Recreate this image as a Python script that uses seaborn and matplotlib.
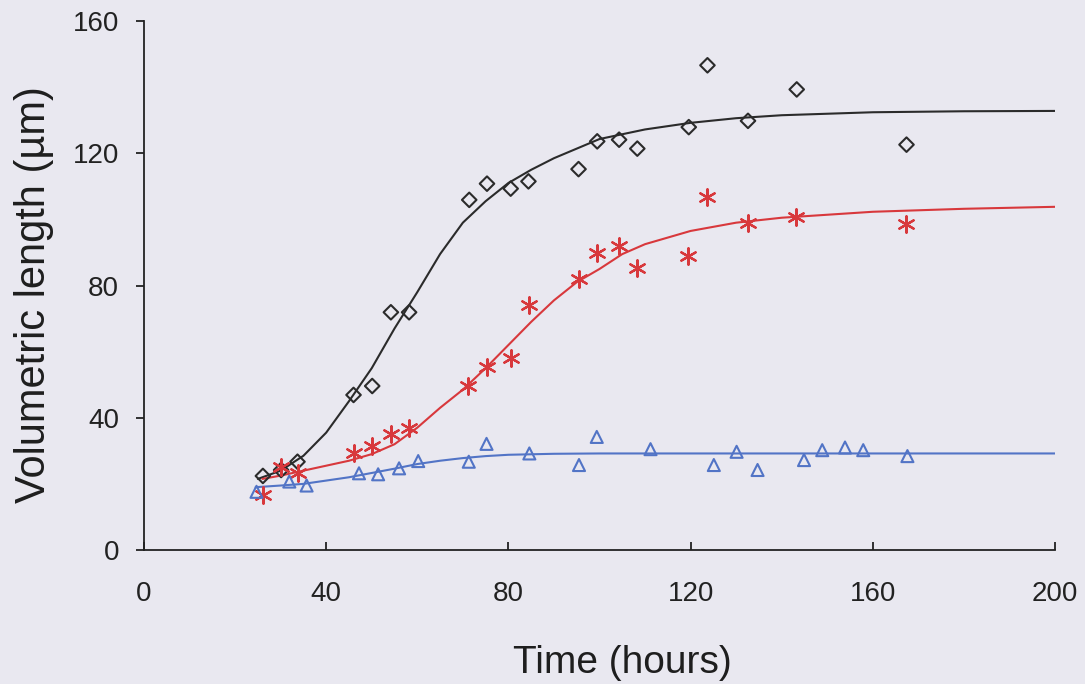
import matplotlib
matplotlib.use("Agg")
import matplotlib.pyplot as plt
import seaborn as sns

# ---- data ----
black_x = [26.1, 30.1, 33.7, 46.0, 50.1, 54.2, 58.2, 71.4, 75.3, 80.5, 84.4, 95.4, 99.5, 104.3, 108.3, 119.6, 123.7, 132.6, 143.3, 167.4]
black_y = [22.4, 24.2, 26.7, 46.9, 49.6, 71.9, 71.9, 105.9, 110.8, 109.3, 111.5, 115.2, 123.6, 124.1, 121.4, 127.9, 146.6, 129.8, 139.3, 122.6]

red_x = [26.1, 30.1, 33.7, 46.0, 50.1, 54.2, 58.2, 71.2, 75.3, 80.6, 84.6, 95.6, 99.5, 104.3, 108.2, 119.5, 123.7, 132.5, 143.1, 167.3]
red_y = [16.6, 25.2, 23.4, 29.2, 31.6, 35.1, 36.8, 49.7, 55.4, 58.0, 74.1, 82.0, 89.7, 91.8, 85.2, 89.0, 106.9, 99.0, 100.8, 98.5]

blue_x = [24.7, 31.9, 35.7, 47.2, 51.4, 56.0, 60.2, 71.3, 75.2, 84.6, 95.5, 99.4, 111.2, 125.1, 130.1, 134.7, 144.9, 148.9, 153.9, 157.9, 167.6]
blue_y = [17.6, 20.7, 19.5, 23.2, 22.9, 24.7, 26.9, 26.7, 32.1, 29.2, 25.7, 34.2, 30.5, 25.7, 29.7, 24.2, 27.2, 30.2, 31.0, 30.2, 28.4]

# fitted curves
black_fit_x = [25, 30, 35, 40, 45, 50, 55, 60, 65, 70, 75, 80, 85, 90, 100, 110, 120, 130, 140, 160, 180, 200]
black_fit_y = [21.5, 24.0, 28.5, 35.5, 45.0, 55.0, 67.0, 78.0, 89.5, 99.0, 105.5, 111.0, 115.0, 118.5, 124.3, 127.2, 129.2, 130.6, 131.5, 132.4, 132.7, 132.8]

red_fit_x = [26, 30, 35, 40, 45, 50, 55, 60, 65, 70, 75, 80, 85, 90, 95, 100, 105, 110, 120, 130, 140, 160, 180, 200]
red_fit_y = [21.5, 22.5, 24.0, 25.5, 27.0, 29.0, 32.0, 37.0, 43.0, 48.5, 55.0, 62.0, 69.0, 75.5, 81.0, 85.0, 89.5, 92.5, 96.5, 99.0, 100.5, 102.3, 103.2, 103.8]

blue_fit_x = [24.5, 30, 35, 40, 45, 50, 55, 60, 65, 70, 75, 80, 90, 100, 200]
blue_fit_y = [19.0, 19.5, 20.0, 21.0, 22.0, 23.3, 24.6, 26.0, 27.0, 27.8, 28.4, 28.8, 29.1, 29.2, 29.2]

x_ticks = [0, 40, 80, 120, 160, 200]
y_ticks = [0, 40, 80, 120, 160]

# ---- style ----
sns.set_theme(style="ticks")
plt.rcParams['font.family'] = ['Liberation Sans', 'DejaVu Sans']
bg = "#e9e8f0"
c_black = "#2b2b2b"
c_red = "#d8383c"
c_blue = "#5274c6"

fig = plt.figure(figsize=(10.85, 6.84), dpi=100, facecolor=bg)
ax = fig.add_axes([144/1085, 1 - 550/684, (1055 - 144)/1085, (550 - 21)/684])
ax.set_facecolor(bg)

for fx, fy, col in [(black_fit_x, black_fit_y, c_black),
                    (red_fit_x, red_fit_y, c_red),
                    (blue_fit_x, blue_fit_y, c_blue)]:
    sns.lineplot(x=fx, y=fy, ax=ax, color=col, linewidth=1.5, sort=True, estimator=None)

sns.scatterplot(x=black_x, y=black_y, ax=ax, marker="D", s=55, facecolor="none",
                edgecolor=c_black, linewidth=1.5, zorder=5)
sns.scatterplot(x=red_x, y=red_y, ax=ax, marker=(6, 2, 0), s=140, color=c_red,
                edgecolor=c_red, linewidth=1.6, zorder=5)
sns.scatterplot(x=blue_x, y=blue_y, ax=ax, marker="^", s=75, facecolor="none",
                edgecolor=c_blue, linewidth=1.5, zorder=5)

ax.set_xlim(0, 200)
ax.set_ylim(0, 160)
ax.set_xticks(x_ticks)
ax.set_yticks(y_ticks)
ax.set_xticklabels([str(t) for t in x_ticks])
ax.set_yticklabels([str(t) for t in y_ticks])
sns.despine(ax=ax)
for sp in ["left", "bottom"]:
    ax.spines[sp].set_color("#222222")
    ax.spines[sp].set_linewidth(1.3)

ax.tick_params(axis="x", direction="in", length=6, width=1.3, pad=22, labelsize=20, colors="#222222")
ax.tick_params(axis="y", direction="out", length=6, width=1.3, pad=12, labelsize=20, colors="#222222")

ax.set_xlabel("Time (hours)", fontsize=28, color="#1e1e1e")
ax.set_ylabel("Volumetric length (µm)", fontsize=30, color="#1e1e1e")
ax.xaxis.set_label_coords((622 - 144) / 911, (550 - 645) / 529)
ax.yaxis.set_label_coords((54 - 144) / 911, (550 - 295) / 529)

fig.savefig("out.png", dpi=100, facecolor=bg)
